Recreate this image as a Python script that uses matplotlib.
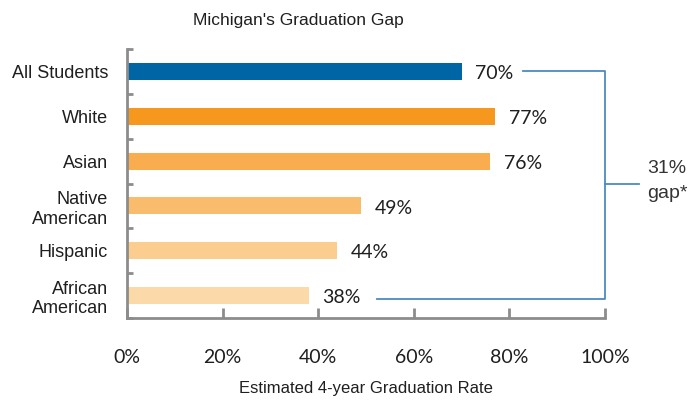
import matplotlib.pyplot as plt
import numpy as np

groups = ["All Students", "White", "Asian", "Native\nAmerican", "Hispanic", "African\nAmerican"]
rates = [70, 77, 76, 49, 44, 38]
colors = ["#0065a4", "#f7981e", "#f9ad4f", "#f9bc6c", "#fbcd8e", "#fcd9a8"]
gap_text = "31%\ngap*"
xticks = [0, 20, 40, 60, 80, 100]

fig = plt.figure(figsize=(6.9, 4.0), dpi=100)
ax = fig.add_axes([0.184, 0.205, 0.693, 0.6725])

y = np.arange(len(groups))
ax.barh(y, rates, height=0.38, color=colors)
ax.set_ylim(len(groups) - 0.5, -0.5)
ax.set_xlim(0, 100)

gray = "#8c8c8c"
txt = "#1f1f1f"
for s in ["top", "right"]:
    ax.spines[s].set_visible(False)
for s in ["left", "bottom"]:
    ax.spines[s].set_color(gray)
    ax.spines[s].set_linewidth(2)

ax.set_yticks(y)
ax.set_yticklabels(groups, fontsize=13, family="Liberation Sans", linespacing=1.2, color=txt)
ax.tick_params(axis="y", length=0, pad=13.5)
ax.set_yticks(np.arange(-0.5, len(groups), 1), minor=True)
ax.tick_params(axis="y", which="minor", direction="in", length=4, width=2, color=gray)

ax.set_xticks(xticks)
ax.set_xticklabels([f"{t}%" for t in xticks], fontsize=14, family="Lato", color=txt)
ax.tick_params(axis="x", direction="in", length=7, width=2, color=gray, pad=22)
ax.set_xlabel("Estimated 4-year Graduation Rate", fontsize=12, family="Liberation Sans",
              labelpad=11, color=txt)

for yi, r in zip(y, rates):
    ax.text(r + 2.8, yi + 0.05, f"{r}%", va="center", ha="left", fontsize=14,
            family="Lato", color=txt)

# bracket for the gap
blue = "#4a8bc2"
top_y, bot_y = y[0], y[-1] + 0.07
bx = 100
ax.plot([82.8, bx, bx, 52.3], [top_y, top_y, bot_y, bot_y], color=blue, lw=1.3, clip_on=False)
mid = 2.5
ax.plot([bx, bx + 7.1], [mid, mid], color=blue, lw=1.3, clip_on=False)
ax.text(bx + 8.8, mid - 0.05, gap_text, va="center", ha="left", fontsize=14,
        family="Liberation Sans", color="#333333", linespacing=1.65)

fig.text(0.432, 0.948, "Michigan's Graduation Gap", ha="center", va="center", fontsize=12.5,
         family="Liberation Sans", color=txt)

fig.savefig("out.png", dpi=100)
